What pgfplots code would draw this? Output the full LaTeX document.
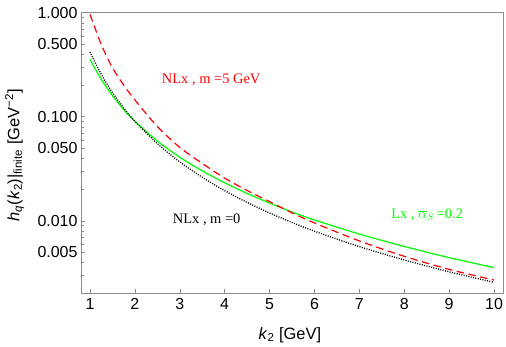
\documentclass[border=0pt]{standalone}
\usepackage{pgfplots}
\usepackage{pgfplotstable}
\pgfplotsset{compat=1.18}
\usepackage{fontspec}
\setmainfont{Liberation Sans}
\newfontfamily\serif{Liberation Serif}

\pgfplotstableread{
k y
1 0.966
1.25 0.497
1.5 0.296
1.75 0.202
2 0.145
2.5 0.0805
3 0.0508
3.5 0.0356
4 0.0257
4.5 0.01954
5 0.01528
5.5 0.01191
6 0.00953
7 0.00640
8 0.00455
9 0.00341
10 0.00269
}\redtab

\pgfplotstableread{
k y
1 0.420
1.25 0.256
1.5 0.171
1.75 0.1216
2 0.0905
2.5 0.0552
3 0.0368
3.5 0.0262
4 0.01948
4.5 0.01501
5 0.01189
5.5 0.00963
6 0.00794
7 0.00564
8 0.00420
9 0.00323
10 0.00256
}\blacktab

\pgfplotstableread{
k y
1 0.356
1.25 0.229
1.5 0.160
1.75 0.1175
2 0.0905
2.5 0.0584
3 0.0408
3.5 0.0302
4 0.0232
4.5 0.0183
5 0.01480
5.5 0.01215
6 0.01017
7 0.00745
8 0.00566
9 0.00442
10 0.00355
}\greentab

\begin{document}
\begin{tikzpicture}
\begin{axis}[
  scale only axis, width=422bp, height=281bp,
  ymode=log, log basis y=10,
  xmin=0.8, xmax=10.2, ymin=0.00202, ymax=1.016,
  axis line style={draw=black!45},
  tick style={black!45, line width=0.5bp},
  xtick={1,2,3,4,5,6,7,8,9,10},
  ytick={0.005,0.01,0.05,0.1,0.5,1},
  yticklabels={0.005,0.010,0.050,0.100,0.500,1.000},
  minor ytick={0.002,0.003,0.004,0.006,0.007,0.008,0.009,0.02,0.03,0.04,0.06,0.07,0.08,0.09,0.2,0.3,0.4,0.6,0.7,0.8,0.9},
  tick align=inside, xtick pos=bottom, ytick pos=left,
  major tick length=4bp, minor tick length=2.5bp,
  tick label style={font=\fontsize{16}{16}\selectfont, text=black},
  xticklabel style={yshift=-2bp},
  /pgf/number format/assume math mode=true,
  xlabel={\textit{k}\textsubscript{2} [GeV]},
  ylabel={\textit{h}\textsubscript{\textit{q}}(\textit{k}\textsubscript{2})|\textsubscript{finite} [GeV\textsuperscript{−2}]},
  label style={font=\fontsize{16.5}{16.5}\selectfont},
  xlabel style={at={(axis description cs:0.495,-0.149)}, anchor=center},
  ylabel style={at={(axis description cs:-0.157,0.49)}, anchor=center, rotate=0},
]
\addplot[green, line width=1.2bp, smooth] table {\greentab};
\addplot[black, line width=1.3bp, dash pattern=on 1bp off 1.4bp, smooth] table {\blacktab};
\addplot[red, line width=1.2bp, dash pattern=on 7.5bp off 4.5bp, smooth] table {\redtab};
\node[red, font=\serif\fontsize{14.5}{14.5}\selectfont] at (axis cs:3.70,0.2255) {NLx , m =5 GeV};
\node[black, font=\serif\fontsize{14.5}{14.5}\selectfont] at (axis cs:3.60,0.01016) {NLx , m =0};
\node[green, font=\serif\fontsize{14.5}{14.5}\selectfont] at (axis cs:8.51,0.01135) {Lx , $\overline{\alpha}_{S}$\,=0.2};
\end{axis}
\pgfresetboundingbox
\path[use as bounding box] ([xshift=-81bp,yshift=-53bp]current axis.south west) rectangle ([xshift=3bp,yshift=12bp]current axis.north east);
\end{tikzpicture}
\end{document}
